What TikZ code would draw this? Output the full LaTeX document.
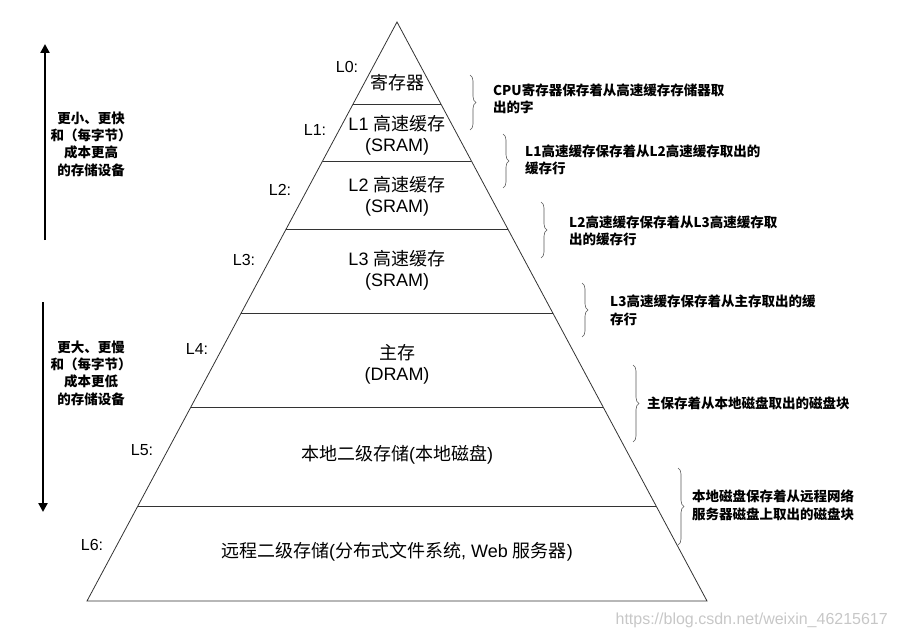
\documentclass[tikz,border=0pt]{standalone}
\usepackage{fontspec}
\setmainfont{Liberation Sans}
\newfontfamily\zh{Noto Sans CJK SC}
\usetikzlibrary{arrows.meta,decorations.pathreplacing,calc}

\begin{document}
\begin{tikzpicture}[x=1pt,y=-1pt,
  layer/.style={align=center,inner sep=0pt,font=\fontsize{18}{21}\selectfont},
  lvl/.style={inner sep=0pt,font=\fontsize{16}{18}\selectfont},
  note/.style={anchor=west,align=left,inner sep=0pt,font={\zh\bfseries\fontsize{13.5}{17.5}\selectfont}},
  side/.style={align=center,inner sep=0pt,font={\zh\bfseries\fontsize{13.5}{17.3}\selectfont}},
  pyrline/.style={draw=black!80,line width=0.8pt},
  curly/.style={draw=black!65,line width=0.6pt,decorate,decoration={brace,amplitude=6pt}},
  bigarrow/.style={line width=2.6pt,-{Triangle[length=9pt,width=9pt]}}]
\useasboundingbox (0,0) rectangle (899,639);

% pyramid
\coordinate (top) at (397,22);
\coordinate (bl) at (87,601);
\coordinate (br) at (707,601);
\draw[pyrline] (top) -- (br) -- (bl) -- cycle;
\foreach \t/\n in {0.1416/a,0.2401/b,0.3575/c,0.5026/d,0.6649/e,0.8359/f}
  \draw[pyrline] ($(top)!\t!(bl)$) coordinate (l\n) -- ($(top)!\t!(br)$) coordinate (r\n);

\node[layer] (reg) at (397,83) {{\zh 寄存器}}; % L0
\node[layer] (cache1) at (397,135.5) {L1 {\zh 高速缓存}\\(SRAM)};
\node[layer] (cache2) at (397,196.5) {L2 {\zh 高速缓存}\\(SRAM)};
\node[layer] (cache3) at (397,270) {L3 {\zh 高速缓存}\\(SRAM)};
\node[layer] (mem) at (397,364) {{\zh 主存}\\(DRAM)}; % L4
\node[layer] (disk) at (397,455) {{\zh 本地二级存储}({\zh 本地磁盘})};
\node[layer] (remote) at (397,552) {{\zh 远程二级存储}({\zh 分布式文件系统}, Web {\zh 服务器})};

\node[lvl] (lv0) at (347,67) {L0:};
\node[lvl] (lv1) at (315,130) {L1:};
\node[lvl] (lv2) at (280,190) {L2:};
\node[lvl] (lv3) at (244,260) {L3:};
\node[lvl] (lv4) at (197,349) {L4:};
\node[lvl] (lv5) at (142,450) {L5:};
\node[lvl] (lv6) at (92,545) {L6:};

% braces and notes
\draw[curly] (470,75) -- (470,130);
\draw[curly] (503,134) -- (503,188);
\draw[curly] (541,202) -- (541,258);
\draw[curly] (582,283) -- (582,337);
\draw[curly] (633,365) -- (633,442);
\draw[curly] (678,468) -- (678,545);

\node[note] (n0) at (493,99) {CPU寄存器保存着从高速缓存存储器取\\出的字};
\node[note] (n1) at (525,160) {L1高速缓存保存着从L2高速缓存取出的\\缓存行};
\node[note] (n2) at (569,231) {L2高速缓存保存着从L3高速缓存取\\出的缓存行};
\node[note] (n3) at (610,310.5) {L3高速缓存保存着从主存取出的缓\\存行};
\node[note] (n4) at (647,403) {主保存着从本地磁盘取出的磁盘块};
\node[note] (n5) at (692,505.5) {本地磁盘保存着从远程网络\\服务器磁盘上取出的磁盘块};

% left side
\coordinate (upfoot) at (45,240);
\coordinate (uphead) at (45,44);
\draw[bigarrow] (upfoot) -- (uphead);
\node[side] (faster) at (91,144) {更小、更快\\和（每字节）\\成本更高\\的存储设备};
\coordinate (downfoot) at (43,302);
\coordinate (downhead) at (43,512);
\draw[bigarrow] (downfoot) -- (downhead);
\node[side] (slower) at (91,373) {更大、更慢\\和（每字节）\\成本更低\\的存储设备};

\node[anchor=east,inner sep=0pt,text=black!22,font=\fontsize{16}{16}\selectfont] (mark) at (888,620) {https://blog.csdn.net/weixin\_46215617};
\end{tikzpicture}
\end{document}
